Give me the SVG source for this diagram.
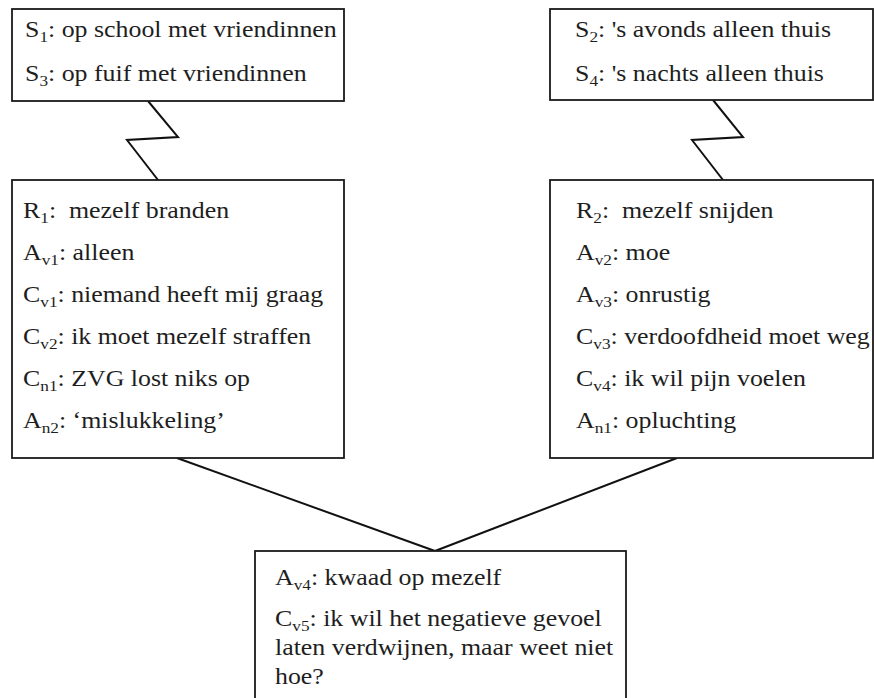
<svg xmlns="http://www.w3.org/2000/svg" width="874" height="698" viewBox="0 0 874 698">
<style>
.box{fill:#fff;stroke:#1a1a1a;stroke-width:1.8}
.t{font-family:"Liberation Serif","Times New Roman",serif;font-size:22.5px;fill:#1e1e1e;white-space:pre}
.sub{font-size:15px}
.con{fill:none;stroke:#111;stroke-width:2}
</style>
<rect width="874" height="698" fill="#fff"/>
<g id="connectors">
<polyline class="con" points="148,101 178,137 127,140 158,180"/>
<polyline class="con" points="713,100 743,137 692,140 723,180"/>
<line class="con" x1="177" y1="458" x2="435" y2="551"/>
<line class="con" x1="677" y1="458" x2="435" y2="551"/>
</g>
<g id="s13">
<rect class="box" x="12" y="9" width="332" height="92"/>
<text class="t" transform="translate(25,37) scale(1.15,1)">S<tspan class="sub" dy="5">1</tspan><tspan dy="-5">: op school met vriendinnen</tspan></text>
<text class="t" transform="translate(25,81) scale(1.15,1)">S<tspan class="sub" dy="5">3</tspan><tspan dy="-5">: op fuif met vriendinnen</tspan></text>
</g>
<g id="s24">
<rect class="box" x="550" y="9" width="323" height="91"/>
<text class="t" transform="translate(575,37) scale(1.15,1)">S<tspan class="sub" dy="5">2</tspan><tspan dy="-5">: 's avonds alleen thuis</tspan></text>
<text class="t" transform="translate(575,81) scale(1.15,1)">S<tspan class="sub" dy="5">4</tspan><tspan dy="-5">: 's nachts alleen thuis</tspan></text>
</g>
<g id="r1">
<rect class="box" x="12" y="180" width="332" height="278"/>
<text class="t" transform="translate(23,218) scale(1.15,1)">R<tspan class="sub" dy="5">1</tspan><tspan dy="-5">:  mezelf branden</tspan></text>
<text class="t" transform="translate(23,260) scale(1.15,1)">A<tspan class="sub" dy="5">v1</tspan><tspan dy="-5">: alleen</tspan></text>
<text class="t" transform="translate(23,302) scale(1.15,1)">C<tspan class="sub" dy="5">v1</tspan><tspan dy="-5">: niemand heeft mij graag</tspan></text>
<text class="t" transform="translate(23,344) scale(1.15,1)">C<tspan class="sub" dy="5">v2</tspan><tspan dy="-5">: ik moet mezelf straffen</tspan></text>
<text class="t" transform="translate(23,386) scale(1.15,1)">C<tspan class="sub" dy="5">n1</tspan><tspan dy="-5">: ZVG lost niks op</tspan></text>
<text class="t" transform="translate(23,428) scale(1.15,1)">A<tspan class="sub" dy="5">n2</tspan><tspan dy="-5">: ‘mislukkeling’</tspan></text>
</g>
<g id="r2">
<rect class="box" x="550" y="180" width="323" height="278"/>
<text class="t" transform="translate(576,218) scale(1.15,1)">R<tspan class="sub" dy="5">2</tspan><tspan dy="-5">:  mezelf snijden</tspan></text>
<text class="t" transform="translate(576,260) scale(1.15,1)">A<tspan class="sub" dy="5">v2</tspan><tspan dy="-5">: moe</tspan></text>
<text class="t" transform="translate(576,302) scale(1.15,1)">A<tspan class="sub" dy="5">v3</tspan><tspan dy="-5">: onrustig</tspan></text>
<text class="t" transform="translate(576,344) scale(1.15,1)">C<tspan class="sub" dy="5">v3</tspan><tspan dy="-5">: verdoofdheid moet weg</tspan></text>
<text class="t" transform="translate(576,386) scale(1.15,1)">C<tspan class="sub" dy="5">v4</tspan><tspan dy="-5">: ik wil pijn voelen</tspan></text>
<text class="t" transform="translate(576,428) scale(1.15,1)">A<tspan class="sub" dy="5">n1</tspan><tspan dy="-5">: opluchting</tspan></text>
</g>
<g id="a4">
<rect class="box" x="255" y="551" width="371" height="160"/>
<text class="t" transform="translate(275,585) scale(1.15,1)">A<tspan class="sub" dy="5">v4</tspan><tspan dy="-5">: kwaad op mezelf</tspan></text>
<text class="t" transform="translate(275,626) scale(1.15,1)">C<tspan class="sub" dy="5">v5</tspan><tspan dy="-5">: ik wil het negatieve gevoel</tspan></text>
<text class="t" transform="translate(275,655) scale(1.15,1)">laten verdwijnen, maar weet niet</text>
<text class="t" transform="translate(275,684) scale(1.15,1)">hoe?</text>
</g>
</svg>
